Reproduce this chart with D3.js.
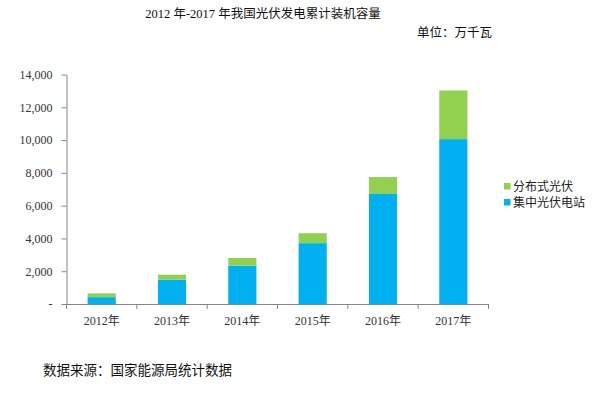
<!DOCTYPE html>
<html>
<head>
<meta charset="utf-8">
<script src="https://cdn.jsdelivr.net/npm/d3@7"></script>
<style>
  body { margin: 0; background: #fff; }
  svg { display: block; }
</style>
</head>
<body>
<script>
// data (万千瓦)
const years = ["2012年", "2013年", "2014年", "2015年", "2016年", "2017年"];
const central = [419, 1479, 2338, 3712, 6710, 10059];      // 集中光伏电站
const distributed = [231, 310, 467, 606, 1032, 2966];      // 分布式光伏
const seriesNames = ["集中光伏电站", "分布式光伏"];
const yTicks = [0, 2000, 4000, 6000, 8000, 10000, 12000, 14000];

const W = 599, H = 394;
const serif = "'Liberation Serif','Times New Roman','Noto Sans CJK SC',serif";
const sans = "'Noto Sans CJK SC','Noto Sans',sans-serif";
const colors = { "集中光伏电站": "#00b0f0", "分布式光伏": "#92d050" };

const svg = d3.select("body").append("svg")
  .attr("width", W)
  .attr("height", H);

const rows = years.map(function (y, i) {
  return { year: y, "集中光伏电站": central[i], "分布式光伏": distributed[i] };
});

const x = d3.scaleBand()
  .domain(years)
  .range([66.5, 488.5])
  .paddingInner(0.6)
  .paddingOuter(0.3);

const y = d3.scaleLinear()
  .domain([0, 14000])
  .range([304, 74.5]);

const stacked = d3.stack().keys(seriesNames)(rows);

// bars
svg.append("g")
  .selectAll("g")
  .data(stacked)
  .join("g")
  .attr("fill", function (s) { return colors[s.key]; })
  .selectAll("rect")
  .data(function (s) { return s; })
  .join("rect")
  .attr("x", function (d) { return x(d.data.year); })
  .attr("y", function (d) { return y(d[1]); })
  .attr("width", x.bandwidth())
  .attr("height", function (d) { return y(d[0]) - y(d[1]); });

// y axis
const yAxis = d3.axisLeft(y)
  .tickValues(yTicks)
  .tickSize(5)
  .tickSizeOuter(0)
  .tickPadding(9)
  .tickFormat(function (d) { return d === 0 ? "-" : d3.format(",")(d); });

const gy = svg.append("g")
  .attr("transform", "translate(66.5,0)")
  .call(yAxis);
gy.selectAll("path, line").attr("stroke", "#868686");
gy.selectAll("text")
  .attr("fill", "#333")
  .style("font-family", serif)
  .style("font-size", "12px");

// x axis: labels centred, ticks on the category boundaries
const xAxis = d3.axisBottom(x)
  .tickSize(0)
  .tickSizeOuter(0)
  .tickPadding(12);

const gx = svg.append("g")
  .attr("transform", "translate(0,304)")
  .call(xAxis);
gx.select("path").attr("stroke", "#868686");
gx.selectAll("text")
  .attr("fill", "#333")
  .style("font-family", serif)
  .style("font-size", "12px");

const bounds = d3.range(years.length + 1).map(function (i) {
  return x.range()[0] + i * x.step();
});
gx.selectAll(".bound")
  .data(bounds)
  .join("line")
  .attr("class", "bound")
  .attr("x1", function (d) { return d; })
  .attr("x2", function (d) { return d; })
  .attr("y1", 0)
  .attr("y2", 5)
  .attr("stroke", "#868686");

// legend
const legend = svg.append("g")
  .attr("transform", "translate(504,183)");
const legendItems = seriesNames.slice().reverse();
legend.selectAll("rect")
  .data(legendItems)
  .join("rect")
  .attr("x", 0)
  .attr("y", function (d, i) { return i * 16; })
  .attr("width", 6.5)
  .attr("height", 6.5)
  .attr("fill", function (d) { return colors[d]; });
legend.selectAll("text")
  .data(legendItems)
  .join("text")
  .attr("x", 9)
  .attr("y", function (d, i) { return i * 16 + 3.5; })
  .attr("dy", "0.36em")
  .attr("fill", "#222")
  .style("font-family", sans)
  .style("font-size", "12px")
  .text(function (d) { return d; });

// titles
svg.append("text")
  .attr("x", 263)
  .attr("y", 18)
  .attr("text-anchor", "middle")
  .attr("fill", "#111")
  .style("font-family", serif)
  .style("font-size", "12.5px")
  .text("2012 年-2017 年我国光伏发电累计装机容量");

svg.append("text")
  .attr("x", 417)
  .attr("y", 37)
  .attr("fill", "#111")
  .style("font-family", serif)
  .style("font-size", "12.5px")
  .text("单位：万千瓦");

svg.append("text")
  .attr("x", 43)
  .attr("y", 375)
  .attr("fill", "#111")
  .style("font-family", serif)
  .style("font-size", "13.5px")
  .text("数据来源：国家能源局统计数据");
</script>
</body>
</html>
